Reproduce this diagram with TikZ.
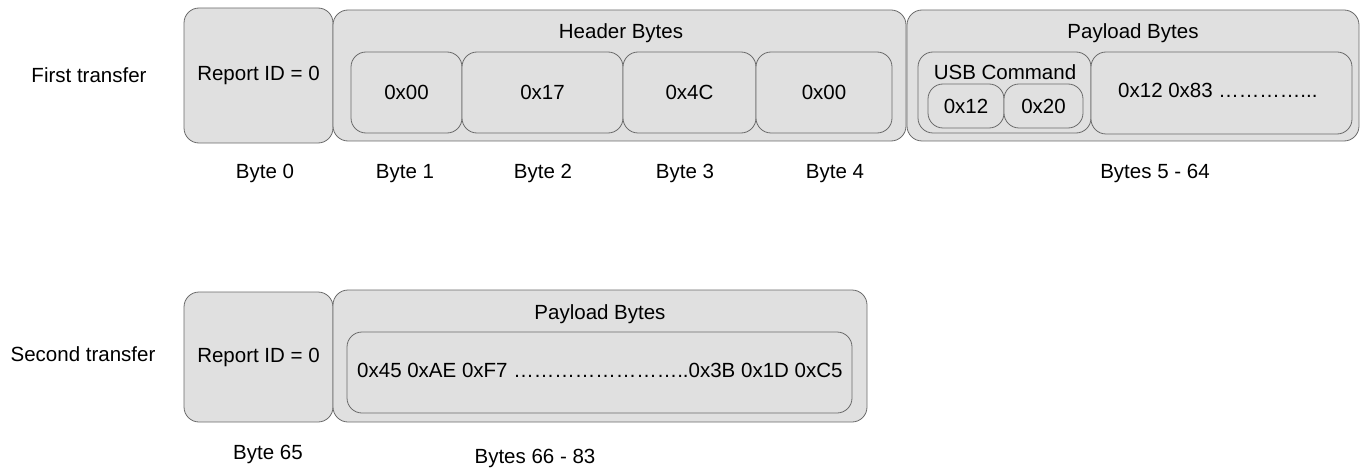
\documentclass[tikz,border=0pt]{standalone}
\usepackage{fontspec}
\setmainfont{Liberation Sans}
\definecolor{boxgray}{HTML}{E0E0E0}
\definecolor{linegray}{HTML}{6A6A6A}
\tikzset{
  box/.style={draw=linegray, fill=boxgray, rounded corners=15pt, line width=0.8pt, inner sep=0pt, align=center},
  lbl/.style={inner sep=0pt, anchor=base},
  every node/.append style={font=\fontsize{20.5}{24}\selectfont}
}
\begin{document}
\begin{tikzpicture}[x=1pt,y=-1pt]
\useasboundingbox (0,0) rectangle (1362,468);
% first transfer
\node[lbl] (ft) at (89,82.5) {First transfer};
\node[box, minimum width=149pt, minimum height=135pt] (rid1) at (258.5,75.5) {Report ID = 0};
\node[box, minimum width=573pt, minimum height=131pt] (hdr) at (619.5,75.5) {};
\node[lbl] (hdrt) at (621,38.5) {Header Bytes};
\node[box, minimum width=111pt, minimum height=81pt] (h1) at (406.5,92.5) {0x00};
\node[box, minimum width=161pt, minimum height=81pt] (h2) at (542.5,92.5) {0x17};
\node[box, minimum width=133pt, minimum height=81pt] (h3) at (689.5,92.5) {0x4C};
\node[box, minimum width=136pt, minimum height=81pt] (h4) at (824,92.5) {0x00};
\node[box, minimum width=452pt, minimum height=131pt] (pay) at (1133,75.5) {};
\node[lbl] (payt) at (1133,38.5) {Payload Bytes};
\node[box, minimum width=173pt, minimum height=81pt] (usb) at (1004.5,92.5) {};
\node[lbl] (usbt) at (1005,79.5) {USB Command};
\node[box, minimum width=76pt, minimum height=44pt] (u1) at (966,106) {0x12};
\node[box, minimum width=79pt, minimum height=44pt] (u2) at (1043.5,106) {0x20};
\node[box, minimum width=261pt, minimum height=82pt] (pd) at (1221.5,93) {};
\node[lbl, anchor=base west] (pdt) at (1118,97.5) {0x12 0x83 …………...};
\node[lbl] (b0) at (265,178.5) {Byte 0};
\node[lbl] (b1) at (405,178.5) {Byte 1};
\node[lbl] (b2) at (543,178.5) {Byte 2};
\node[lbl] (b3) at (685,178.5) {Byte 3};
\node[lbl] (b4) at (835,178.5) {Byte 4};
\node[lbl] (b5) at (1155,178.5) {Bytes 5 - 64};
% second transfer
\node[lbl] (st) at (83,361.5) {Second transfer};
\node[box, minimum width=149pt, minimum height=130pt] (rid2) at (258.5,357) {Report ID = 0};
\node[box, minimum width=534pt, minimum height=132pt] (pay2) at (600,356) {};
\node[lbl] (pay2t) at (600,319.5) {Payload Bytes};
\node[box, minimum width=505pt, minimum height=81pt] (pd2) at (599.5,372.5) {};
\node[lbl, anchor=base west] (pd2t) at (357,377.5) {0x45 0xAE 0xF7 ……………………..0x3B 0x1D 0xC5};
\node[lbl] (b65) at (268,459.5) {Byte 65};
\node[lbl] (b66) at (535,463.5) {Bytes 66 - 83};
\end{tikzpicture}
\end{document}
